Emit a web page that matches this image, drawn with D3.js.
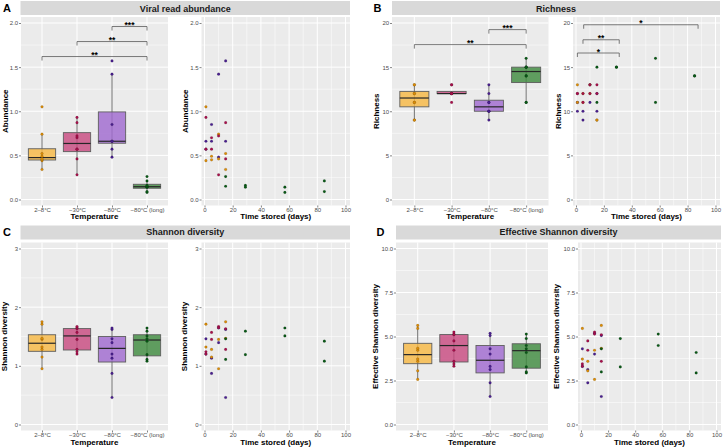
<!DOCTYPE html>
<html>
<head>
<meta charset="utf-8">
<script src="https://cdn.jsdelivr.net/npm/d3@7"></script>
<style>
body { margin: 0; background: #fff; }
svg { display: block; font-family: 'Liberation Sans', Arial, sans-serif; }
.axis text { font-size: 6px; fill: #4d4d4d; font-family: 'Liberation Sans', Arial, sans-serif; }
.axis line { stroke: #333; stroke-width: 0.6; }
.ax-title { font-size: 8px; font-weight: bold; fill: #000; }
.strip-text { font-size: 9px; font-weight: bold; fill: #1a1a1a; }
.panel-label { font-size: 11px; font-weight: bold; fill: #000; }
.sig { font-size: 8.5px; font-weight: bold; fill: #000; }
</style>
</head>
<body>
<div id="chart"></div>
<script>
// Groups and samples (8 per temperature group, 2 replicates per storage day)
var temperatures = ['2\u20138\u00b0C', '\u221230\u00b0C', '\u221280\u00b0C', '\u221280\u00b0C (long)'];
var sampleTemp = [0, 0, 0, 0, 0, 0, 0, 0, 1, 1, 1, 1, 1, 1, 1, 1, 2, 2, 2, 2, 2, 2, 2, 2, 3, 3, 3, 3, 3, 3, 3, 3];
var daysStored = [1, 1, 5, 5, 10, 10, 15, 15, 1, 1, 5, 5, 10, 10, 15, 15, 1, 1, 5, 5, 10, 10, 15, 15, 15, 15, 29, 29, 57, 57, 85, 85];

var abundance = [1.05, 0.44, 0.49, 0.45, 0.74, 0.46, 0.52, 0.34,
	0.93, 0.57, 0.70, 0.57, 0.72, 0.28, 0.87, 0.46,
	0.66, 0.57, 0.85, 0.66, 1.42, 0.48, 1.57, 0.66,
	0.26, 0.15, 0.16, 0.14, 0.14, 0.08, 0.21, 0.09];
var richness = [13, 11, 12, 11, 13, 12, 9, 9,
	12, 12, 12, 11, 13, 12, 13, 12,
	10, 11, 10, 9, 11, 13, 12, 10,
	15, 11, 15, 15, 16, 11, 14, 14];
var shannon = [1.71, 1.32, 1.28, 1.15, 1.45, 0.95, 1.75, 1.47,
	1.24, 1.20, 1.57, 1.45, 1.67, 1.65, 1.63, 1.28,
	1.46, 1.20, 1.13, 0.87, 1.645, 1.395, 0.46, 1.62,
	1.46, 1.11, 1.59, 1.19, 1.645, 1.51, 1.42, 1.08];
var effShannon = [5.46, 3.72, 3.59, 3.05, 4.22, 2.56, 5.63, 4.33,
	3.44, 3.31, 4.75, 4.22, 5.25, 5.14, 5.10, 3.59,
	4.30, 3.30, 3.12, 2.37, 5.18, 4.00, 1.59, 5.05,
	4.30, 2.99, 4.88, 3.27, 5.14, 4.49, 4.09, 2.93];

// Tick labels
var yTicksAbundance = [0, 0.5, 1, 1.5, 2];
var yTicksRichness = [0, 5, 10, 15, 20];
var yTicksShannon = [0, 1, 2, 3];
var yTicksEffShannon = [0, 2.5, 5, 7.5, 10];
var xTicksDays = [0, 20, 40, 60, 80, 100];

// Significance brackets
var bracketsAbundance = [
	{ from: 2, to: 3, y: 1.96, label: '***' },
	{ from: 1, to: 3, y: 1.79, label: '**' },
	{ from: 0, to: 3, y: 1.62, label: '**' }
];
var bracketsRichness = [
	{ from: 2, to: 3, y: 19.25, label: '***' },
	{ from: 0, to: 3, y: 17.55, label: '**' }
];
var bracketsRichnessDays = [
	{ from: 5.5, to: 87.5, y: 19.8, label: '*' },
	{ from: 5, to: 31, y: 18.1, label: '**' },
	{ from: 1, to: 31, y: 16.6, label: '*' }
];

var boxFill = ['#f7b844', '#c84a80', '#a06ad0', '#3f8b40'];
var pointFill = ['#dc8d08', '#a8104c', '#4a1f90', '#0a5a17'];
var drawOrder = [2, 0, 1, 3];

var rows = [
	{ stripTop: 1, stripBottom: 15, top: 17, bottom: 205.5, titleBase: 219.3, labelBase: 11.7, stripBase: 11.5 },
	{ stripTop: 225.5, stripBottom: 239.5, top: 242.5, bottom: 430.5, titleBase: 444.5, labelBase: 236, stripBase: 235 }
];

var panels = [
	{ label: 'A', labelX: 3, title: 'Viral read abundance', stripX: [20.5, 350], row: 0, values: abundance,
		yMax: 2, yTicks: yTicksAbundance, fmt: '.1f', yTitle: 'Abundance',
		box: [21, 168], boxTitleX: 7.5, scat: [201.5, 350], scatTitleX: 187.5,
		boxBrackets: bracketsAbundance, scatBrackets: [] },
	{ label: 'B', labelX: 373.5, title: 'Richness', stripX: [392, 720], row: 0, values: richness,
		yMax: 20, yTicks: yTicksRichness, fmt: 'd', yTitle: 'Richness',
		box: [392, 548.5], boxTitleX: 379, scat: [573, 720], scatTitleX: 560.5,
		boxBrackets: bracketsRichness, scatBrackets: bracketsRichnessDays },
	{ label: 'C', labelX: 3, title: 'Shannon diversity', stripX: [20.5, 350], row: 1, values: shannon,
		yMax: 3, yTicks: yTicksShannon, fmt: 'd', yTitle: 'Shannon diversity',
		box: [21, 168], boxTitleX: 6.5, scat: [201.5, 350], scatTitleX: 186.5,
		boxBrackets: [], scatBrackets: [] },
	{ label: 'D', labelX: 376.5, title: 'Effective Shannon diversity', stripX: [396, 721], row: 1, values: effShannon,
		yMax: 10, yTicks: yTicksEffShannon, fmt: '.1f', yTitle: 'Effective Shannon diversity',
		box: [396, 548], boxTitleX: 378, scat: [578, 721], scatTitleX: 559,
		boxBrackets: [], scatBrackets: [] }
];

var svg = d3.select('#chart').append('svg')
	.attr('width', 724)
	.attr('height', 447);

svg.append('rect').attr('width', 724).attr('height', 447).attr('fill', '#fff');

/*
 * Grey panel with ggplot-style grid
 */
var drawBackground = function(g, x0, x1, row, yScale, yTicks, xMajor, xMinor) {
	g.append('rect')
		.attr('x', x0).attr('y', row.top)
		.attr('width', x1 - x0).attr('height', row.bottom - row.top)
		.attr('fill', '#ebebeb');

	var yMinor = yTicks.slice(0, -1).map(function(t, i) {
		return (t + yTicks[i + 1]) / 2;
	});

	g.selectAll('.yminor').data(yMinor).enter().append('line')
		.attr('x1', x0).attr('x2', x1)
		.attr('y1', yScale).attr('y2', yScale)
		.attr('stroke', '#fff').attr('stroke-width', 0.5);

	g.selectAll('.xminor').data(xMinor).enter().append('line')
		.attr('x1', function(d) { return d; }).attr('x2', function(d) { return d; })
		.attr('y1', row.top).attr('y2', row.bottom)
		.attr('stroke', '#fff').attr('stroke-width', 0.5);

	g.selectAll('.ymajor').data(yTicks).enter().append('line')
		.attr('x1', x0).attr('x2', x1)
		.attr('y1', yScale).attr('y2', yScale)
		.attr('stroke', '#fff').attr('stroke-width', 1);

	g.selectAll('.xmajor').data(xMajor).enter().append('line')
		.attr('x1', function(d) { return d; }).attr('x2', function(d) { return d; })
		.attr('y1', row.top).attr('y2', row.bottom)
		.attr('stroke', '#fff').attr('stroke-width', 1);
};

var drawYAxis = function(g, x0, yScale, p) {
	g.append('g')
		.attr('class', 'axis')
		.attr('transform', 'translate(' + x0 + ',0)')
		.call(d3.axisLeft(yScale).tickValues(p.yTicks).tickSize(2).tickPadding(0.8).tickFormat(d3.format(p.fmt)))
		.call(function(a) { a.select('.domain').remove(); })
		.attr('font-size', null).attr('font-family', null);
};

var drawBrackets = function(g, list, xScale, yScale) {
	list.forEach(function(b) {
		var xa = xScale(b.from), xb = xScale(b.to), yy = yScale(b.y);
		g.append('path')
			.attr('d', 'M' + xa + ',' + (yy + 4) + 'V' + yy + 'H' + xb + 'V' + (yy + 4))
			.attr('fill', 'none')
			.attr('stroke', '#5a5a5a')
			.attr('stroke-width', 0.8);
		g.append('text')
			.attr('class', 'sig')
			.attr('x', (xa + xb) / 2)
			.attr('y', yy + 1.6)
			.attr('text-anchor', 'middle')
			.text(b.label);
	});
};

/*
 * Box plot by temperature
 */
var drawBoxPlot = function(p) {
	var row = rows[p.row];
	var g = svg.append('g');
	var x0 = p.box[0], x1 = p.box[1];

	var xScale = d3.scalePoint().domain(d3.range(temperatures.length)).range([x0, x1]).padding(0.6);
	var yScale = d3.scaleLinear().domain([0, p.yMax]).range([row.bottom - 6, row.top + 6]);

	drawBackground(g, x0, x1, row, yScale, p.yTicks, temperatures.map(function(d, i) { return xScale(i); }), []);

	var bw = xScale.step() * 0.78;

	temperatures.forEach(function(t, gi) {
		var vals = p.values.filter(function(v, i) { return sampleTemp[i] == gi; }).sort(d3.ascending);
		var q1 = d3.quantile(vals, 0.25);
		var med = d3.quantile(vals, 0.5);
		var q3 = d3.quantile(vals, 0.75);
		var iqr = q3 - q1;
		var lo = d3.min(vals.filter(function(v) { return v >= q1 - 1.5 * iqr; }));
		var hi = d3.max(vals.filter(function(v) { return v <= q3 + 1.5 * iqr; }));
		var cx = xScale(gi);

		g.append('line')
			.attr('x1', cx).attr('x2', cx)
			.attr('y1', yScale(lo)).attr('y2', yScale(hi))
			.attr('stroke', '#5e5e5e').attr('stroke-width', 0.9);

		g.append('rect')
			.attr('x', cx - bw / 2).attr('y', yScale(q3))
			.attr('width', bw).attr('height', Math.max(0.5, yScale(q1) - yScale(q3)))
			.attr('fill', boxFill[gi]).attr('fill-opacity', 0.82)
			.attr('stroke', '#5e5e5e').attr('stroke-width', 0.9);

		g.append('line')
			.attr('x1', cx - bw / 2).attr('x2', cx + bw / 2)
			.attr('y1', yScale(med)).attr('y2', yScale(med))
			.attr('stroke', '#262626').attr('stroke-width', 1.2);

		g.selectAll('.pt' + gi).data(vals).enter().append('circle')
			.attr('cx', cx).attr('cy', yScale)
			.attr('r', 1.35)
			.attr('fill', pointFill[gi])
			.attr('stroke', 'rgba(0,0,0,0.3)').attr('stroke-width', 0.4);
	});

	drawBrackets(g, p.boxBrackets, xScale, yScale);

	drawYAxis(g, x0, yScale, p);

	g.append('g')
		.attr('class', 'axis')
		.attr('transform', 'translate(0,' + row.bottom + ')')
		.call(d3.axisBottom(xScale).tickSize(2).tickPadding(0).tickFormat(function(i) { return temperatures[i]; }))
		.call(function(a) { a.select('.domain').remove(); })
		.attr('font-size', null).attr('font-family', null);

	g.append('text')
		.attr('class', 'ax-title')
		.attr('x', (x0 + x1) / 2).attr('y', row.titleBase)
		.attr('text-anchor', 'middle')
		.text('Temperature');

	g.append('text')
		.attr('class', 'ax-title')
		.attr('transform', 'translate(' + p.boxTitleX + ',' + (row.top + row.bottom) / 2 + ') rotate(-90)')
		.attr('text-anchor', 'middle')
		.text(p.yTitle);
};

/*
 * Scatter against days stored
 */
var drawScatter = function(p) {
	var row = rows[p.row];
	var g = svg.append('g');
	var x0 = p.scat[0], x1 = p.scat[1];

	var xScale = d3.scaleLinear().domain([0, 100]).range([x0 + 3, x1 - 4.5]);
	var yScale = d3.scaleLinear().domain([0, p.yMax]).range([row.bottom - 6, row.top + 6]);

	var xMinor = xTicksDays.slice(0, -1).map(function(t, i) { return xScale((t + xTicksDays[i + 1]) / 2); });
	drawBackground(g, x0, x1, row, yScale, p.yTicks, xTicksDays.map(xScale), xMinor);

	var idx = d3.range(p.values.length).sort(function(a, b) {
		return drawOrder.indexOf(sampleTemp[a]) - drawOrder.indexOf(sampleTemp[b]);
	});

	g.selectAll('.pt').data(idx).enter().append('circle')
		.attr('cx', function(i) { return xScale(daysStored[i]); })
		.attr('cy', function(i) { return yScale(p.values[i]); })
		.attr('r', 1.35)
		.attr('fill', function(i) { return pointFill[sampleTemp[i]]; })
		.attr('stroke', 'rgba(0,0,0,0.3)').attr('stroke-width', 0.4);

	drawBrackets(g, p.scatBrackets, xScale, yScale);

	drawYAxis(g, x0, yScale, p);

	g.append('g')
		.attr('class', 'axis')
		.attr('transform', 'translate(0,' + row.bottom + ')')
		.call(d3.axisBottom(xScale).tickValues(xTicksDays).tickSize(2).tickPadding(0))
		.call(function(a) { a.select('.domain').remove(); })
		.attr('font-size', null).attr('font-family', null);

	g.append('text')
		.attr('class', 'ax-title')
		.attr('x', (x0 + x1) / 2).attr('y', row.titleBase)
		.attr('text-anchor', 'middle')
		.text('Time stored (days)');

	g.append('text')
		.attr('class', 'ax-title')
		.attr('transform', 'translate(' + p.scatTitleX + ',' + (row.top + row.bottom) / 2 + ') rotate(-90)')
		.attr('text-anchor', 'middle')
		.text(p.yTitle);
};

panels.forEach(function(p) {
	var row = rows[p.row];

	svg.append('rect')
		.attr('x', p.stripX[0]).attr('y', row.stripTop)
		.attr('width', p.stripX[1] - p.stripX[0]).attr('height', row.stripBottom - row.stripTop)
		.attr('fill', '#d9d9d9');

	svg.append('text')
		.attr('class', 'strip-text')
		.attr('x', (p.stripX[0] + p.stripX[1]) / 2).attr('y', row.stripBase)
		.attr('text-anchor', 'middle')
		.text(p.title);

	svg.append('text')
		.attr('class', 'panel-label')
		.attr('x', p.labelX).attr('y', row.labelBase)
		.text(p.label);

	drawBoxPlot(p);
	drawScatter(p);
});
</script>
</body>
</html>
